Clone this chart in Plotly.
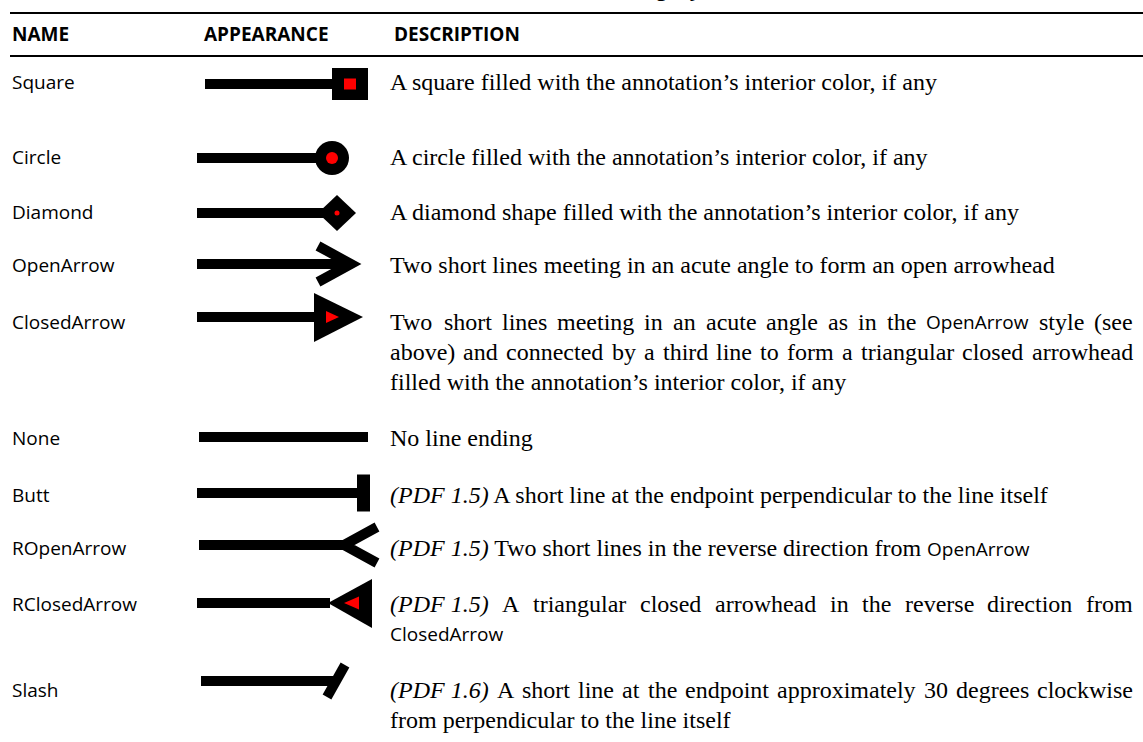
import re
import plotly.graph_objects as go

# ---------------- data ----------------
title_text = "TABLE 8.27  Line ending styles"
headers = ["NAME", "APPEARANCE", "DESCRIPTION"]
names = ["Square", "Circle", "Diamond", "OpenArrow", "ClosedArrow",
         "None", "Butt", "ROpenArrow", "RClosedArrow", "Slash"]
# *...* = italic, {...} = sans-serif inline name; each inner list = lines, flag = justified
descriptions = [
    [("A square filled with the annotation’s interior color, if any", False)],
    [("A circle filled with the annotation’s interior color, if any", False)],
    [("A diamond shape filled with the annotation’s interior color, if any", False)],
    [("Two short lines meeting in an acute angle to form an open arrowhead", False)],
    [("Two short lines meeting in an acute angle as in the {OpenArrow} style (see", True),
     ("above) and connected by a third line to form a triangular closed arrowhead", True),
     ("filled with the annotation’s interior color, if any", False)],
    [("No line ending", False)],
    [("*(PDF 1.5)* A short line at the endpoint perpendicular to the line itself", False)],
    [("*(PDF 1.5)* Two short lines in the reverse direction from {OpenArrow}", False)],
    [("*(PDF 1.5)* A triangular closed arrowhead in the reverse direction from", True),
     ("{ClosedArrow}", False)],
    [("*(PDF 1.6)* A short line at the endpoint approximately 30 degrees clockwise", True),
     ("from perpendicular to the line itself", False)],
]

# ---------------- layout constants ----------------
W, H = 1143, 742
glyph_y = [84, 158, 213, 264, 317, 437, 493, 545, 603, 681]
text_y = [82, 157, 212, 265, 322, 438, 495, 548, 604, 690]
line_gap = 30
name_x, app_x, desc_x, right_x = 12, 202, 390, 1133
SERIF, SANS = "Liberation Serif", "Open Sans"
DESC_SIZE, NAME_SIZE, HEAD_SIZE = 24, 19, 19
RED = "#FF0000"

# width tables (per 1000 em)
TIMES = dict(zip("abcdefghijklmnopqrstuvwxyz",
                 [444, 500, 444, 500, 444, 333, 500, 500, 278, 278, 500, 278, 778,
                  500, 500, 500, 500, 333, 389, 278, 500, 500, 722, 500, 500, 444]))
TIMES.update(dict(zip("ABCDEFGHIJKLMNOPQRSTUVWXYZ",
                      [722, 667, 667, 722, 611, 556, 722, 722, 333, 389, 722, 611, 889,
                       722, 722, 556, 722, 667, 556, 611, 722, 722, 944, 722, 722, 611])))
TIMES.update({" ": 250, "(": 333, ")": 333, ",": 250, ".": 250, "’": 333})
for d in "0123456789":
    TIMES[d] = 500
TIMES_I = dict(TIMES)
TIMES_I.update({"P": 611, "D": 722, "F": 611})
OSANS = {"C": 632, "l": 258, "o": 602, "s": 479, "e": 561, "d": 613, "A": 633,
         "r": 411, "w": 817, "O": 780, "p": 613, "n": 613}


def token_html(tok):
    if tok.startswith("*"):
        return "<i>" + tok[1:-1] + "</i>"
    if tok.startswith("{"):
        return ('<span style="font-family:Open Sans;font-size:%dpx">' % NAME_SIZE) + tok[1:-1] + "</span>"
    return tok


def token_width(tok):
    if tok.startswith("*"):
        return sum(TIMES_I.get(c, 500) for c in tok[1:-1]) * DESC_SIZE / 1000
    if tok.startswith("{"):
        return sum(OSANS.get(c, 600) for c in tok[1:-1]) * NAME_SIZE / 1000
    return sum(TIMES.get(c, 500) for c in tok) * DESC_SIZE / 1000


fig = go.Figure()
fig.add_trace(go.Scatter(x=[0], y=[0], mode="markers", marker=dict(opacity=0),
                         hoverinfo="skip", showlegend=False))

shapes = []
annotations = []


def ann(x, y, text, size, family, bold=False, xanchor="left", yref="y"):
    annotations.append(dict(x=x, y=y, xref="x", yref=yref, text=("<b>%s</b>" % text) if bold else text,
                            showarrow=False, xanchor=xanchor, yanchor="middle",
                            font=dict(family=family, size=size, color="black")))


def rect(x0, y0, x1, y1, color="black"):
    shapes.append(dict(type="rect", xref="x", yref="y", x0=x0, y0=y0, x1=x1, y1=y1,
                       fillcolor=color, line=dict(width=0)))


def circ(cx, cy, r, color="black"):
    shapes.append(dict(type="circle", xref="x", yref="y", x0=cx - r, y0=cy - r, x1=cx + r, y1=cy + r,
                       fillcolor=color, line=dict(width=0)))


def poly(pts, color="black"):
    p = "M" + " L".join("%g,%g" % pt for pt in pts) + " Z"
    shapes.append(dict(type="path", xref="x", yref="y", path=p, fillcolor=color, line=dict(width=0)))


def stroke(pts, width=10):
    p = "M" + " L".join("%g,%g" % pt for pt in pts)
    shapes.append(dict(type="path", xref="x", yref="y", path=p, fillcolor="rgba(0,0,0,0)",
                       line=dict(color="black", width=width)))


def shaft(x0, x1, y):
    rect(x0, y - 5, x1, y + 5)


# rules and header
shapes.append(dict(type="line", xref="x", yref="y", x0=10, x1=W, y0=13, y1=13, line=dict(color="black", width=2)))
shapes.append(dict(type="line", xref="x", yref="y", x0=10, x1=W, y0=56, y1=56, line=dict(color="black", width=2)))
for hx, htxt in zip([name_x - 2, app_x, desc_x + 2], headers):
    ann(hx, 34, htxt, HEAD_SIZE, SANS, bold=True)
# table title, almost entirely cut off by the top edge (only descenders visible)
ann(729, 1 + 11 / H, title_text, HEAD_SIZE, SANS, bold=True, xanchor="right", yref="paper")

# glyphs
for name, y in zip(names, glyph_y):
    if name == "Square":
        shaft(205, 333, y); rect(332, y - 16, 368, y + 16); rect(344, y - 5.5, 356, y + 5.5, RED)
    elif name == "Circle":
        shaft(197, 320, y); circ(332, y, 17); circ(332, y, 6, RED)
    elif name == "Diamond":
        shaft(197, 326, y); poly([(318, y), (337, y - 18), (356, y), (337, y + 18)]); circ(337, y, 2.5, RED)
    elif name == "OpenArrow":
        shaft(197, 350, y); stroke([(318, y - 18), (351, y), (318, y + 18)])
    elif name == "ClosedArrow":
        shaft(197, 315, y); poly([(314, y - 24), (363, y), (314, y + 25)])
        poly([(326, y - 6), (339, y), (326, y + 6)], RED)
    elif name == "None":
        shaft(199, 368, y)
    elif name == "Butt":
        shaft(197, 358, y); rect(357, y - 18.5, 370, y + 18.5)
    elif name == "ROpenArrow":
        shaft(199, 345, y); stroke([(377, y - 18), (344, y), (377, y + 18)])
    elif name == "RClosedArrow":
        shaft(197, 330, y); poly([(328, y), (372, y - 24), (372, y + 25)])
        poly([(344, y), (359, y - 6.5), (359, y + 6.5)], RED)
    elif name == "Slash":
        shaft(201, 336, y); stroke([(345, y - 16), (327, y + 16)])

# names and descriptions
TOKEN_RE = re.compile(r"\*[^*]+\*|\{[^}]+\}|\S+")
for name, ty, lines in zip(names, text_y, descriptions):
    ann(name_x - 2, ty, name, NAME_SIZE, SANS)
    for i, (line, just) in enumerate(lines):
        ly = ty + i * line_gap
        toks = TOKEN_RE.findall(line)
        if not just:
            ann(desc_x - 2, ly, " ".join(token_html(t) for t in toks), DESC_SIZE, SERIF)
        else:
            widths = [token_width(t) for t in toks]
            gap = (right_x - desc_x - sum(widths)) / (len(toks) - 1)
            x = desc_x
            for t, w in zip(toks, widths):
                ann(x - 2, ly, token_html(t), DESC_SIZE, SERIF)
                x += w + gap

fig.update_layout(
    width=W, height=H, margin=dict(l=0, r=0, t=0, b=0),
    paper_bgcolor="white", plot_bgcolor="white",
    xaxis=dict(range=[0, W], visible=False, fixedrange=True),
    yaxis=dict(range=[H, 0], visible=False, fixedrange=True),
    shapes=shapes, annotations=annotations, showlegend=False,
)
fig.write_html("out.html", config={"displayModeBar": False},
               post_script="document.body.style.margin='0px';document.body.style.overflow='hidden';")
